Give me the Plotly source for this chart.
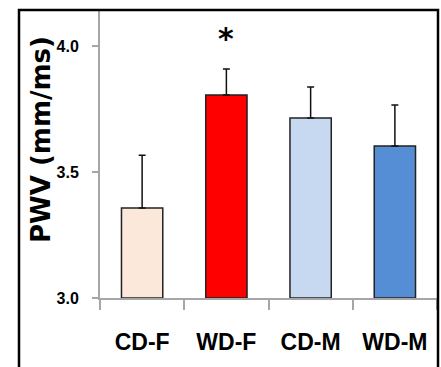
import plotly.graph_objects as go

categories = ["CD-F", "WD-F", "CD-M", "WD-M"]
means = [3.357, 3.806, 3.714, 3.603]
errors = [0.210, 0.103, 0.123, 0.163]
colors = ["#FCE8DA", "#FF0000", "#C6D9F0", "#558ED5"]
y_ticks = [3.0, 3.5, 4.0]
y_tick_labels = ["3.0", "3.5", "4.0"]
y_title = "PWV (mm/ms)"
star_category = "WD-F"
star_text = "*"

FONT = "Liberation Sans, Arial, sans-serif"

fig = go.Figure()
fig.add_trace(go.Bar(
    x=categories, y=[m - 3.0 for m in means], base=3.0,
    marker=dict(color=colors, line=dict(color="#222222", width=1.5)),
    width=0.49,
    error_y=dict(type="data", array=errors, symmetric=False, arrayminus=[0]*4,
                 color="#111111", thickness=1.5, width=3.5),
    showlegend=False,
))

si = categories.index(star_category)
fig.add_annotation(x=star_category, y=means[si] + errors[si],
                   yshift=30, text=star_text, showarrow=False,
                   font=dict(size=30, color="#000000", family="DejaVu Sans", weight="bold"))

fig.add_annotation(xref="paper", yref="paper", x=(41 - 100) / 337, y=(298 - 140) / 288,
                   text=y_title, textangle=-90, showarrow=False,
                   xanchor="center", yanchor="middle",
                   font=dict(family="DejaVu Sans", size=26, color="#000000", weight="bold"))

fig.update_layout(
    width=441, height=367,
    margin=dict(l=100, r=4, t=10, b=69),
    plot_bgcolor="white", paper_bgcolor="white",
    xaxis=dict(
        type="category", showline=True, linecolor="#A6A6A6", linewidth=2,
        ticks="outside", tickson="boundaries", ticklen=10, tickcolor="#A6A6A6", tickwidth=2,
        tickfont=dict(family=FONT, size=23, color="#000000", weight="bold"),
        tickangle=0, automargin=False, ticklabelstandoff=22,
        showgrid=False, zeroline=False,
    ),
    yaxis=dict(
        range=[3.0, 4.143], tickvals=y_ticks, ticktext=y_tick_labels,
        showline=True, linecolor="#A6A6A6", linewidth=2,
        ticks="outside", ticklen=6, tickcolor="#A6A6A6", tickwidth=2,
        tickfont=dict(family=FONT, size=16, color="#000000", weight="bold"),
        ticklabelstandoff=10,
        showgrid=False, zeroline=False, automargin=False,
    ),
    shapes=[dict(type="rect", xref="paper", yref="paper",
                 x0=(19 - 100) / 337, x1=(438 - 100) / 337, y0=-0.5, y1=1.0,
                 line=dict(color="#000000", width=2.5), fillcolor="rgba(0,0,0,0)", layer="above")],
)

fig.write_html("out.html")
